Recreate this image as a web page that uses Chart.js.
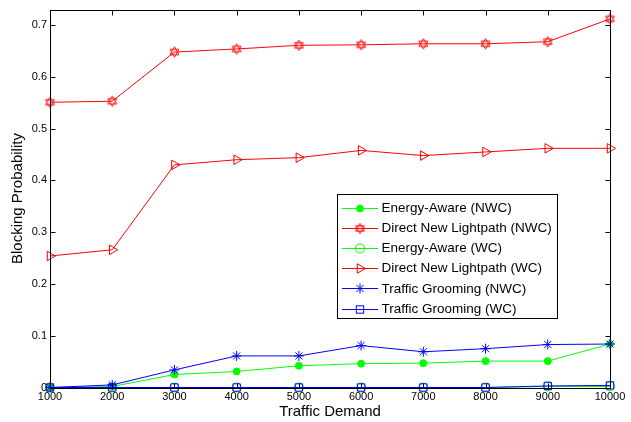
<!DOCTYPE html>
<html><head><meta charset="utf-8">
<script src="https://cdn.jsdelivr.net/npm/chart.js@4.4.1/dist/chart.umd.min.js"></script>
<style>html,body{margin:0;padding:0;background:#fff;}#wrap{width:631px;height:422px;position:relative;}</style>
</head><body><div id="wrap"><canvas id="c" width="631" height="422"></canvas></div>
<script>
// ---- data ----
const trafficDemand = [1000, 2000, 3000, 4000, 5000, 6000, 7000, 8000, 9000, 10000];
const xTickValues = [1000, 2000, 3000, 4000, 5000, 6000, 7000, 8000, 9000, 10000];
const yTickValues = [0, 0.1, 0.2, 0.3, 0.4, 0.5, 0.6, 0.7];
const energyAwareNWC = [0, 0.002, 0.025, 0.031, 0.042, 0.046, 0.047, 0.051, 0.051, 0.084];
const directNewNWC  = [0.551, 0.553, 0.648, 0.654, 0.661, 0.662, 0.664, 0.664, 0.668, 0.712];
const energyAwareWC = [0, 0, 0, 0, 0, 0, 0, 0, 0.002, 0.002];
const directNewWC   = [0.254, 0.266, 0.430, 0.440, 0.444, 0.458, 0.448, 0.455, 0.462, 0.462];
const groomingNWC   = [0, 0.005, 0.034, 0.061, 0.061, 0.081, 0.069, 0.075, 0.083, 0.084];
const groomingWC    = [0, 0, 0, 0, 0, 0, 0, 0, 0.003, 0.004];
const seriesNames = ['Energy-Aware (NWC)', 'Direct New Lightpath (NWC)', 'Energy-Aware (WC)',
  'Direct New Lightpath (WC)', 'Traffic Grooming (NWC)', 'Traffic Grooming (WC)'];
const xTitle = 'Traffic Demand';
const yTitle = 'Blocking Probability';

const GREEN = 'rgb(0,255,0)', RED = 'rgb(255,0,0)', BLUE = 'rgb(0,0,255)';
const FONT = '"Liberation Sans", Arial, Helvetica, sans-serif';

function hexagramImage(color) {
  const s = 13, c = document.createElement('canvas');
  c.width = s; c.height = s;
  const g = c.getContext('2d');
  g.strokeStyle = color; g.lineWidth = 1;
  const cx = s / 2, cy = s / 2, R = 5.2, r = R / Math.sqrt(3);
  g.beginPath();
  for (let i = 0; i < 12; i++) {
    const a = -Math.PI / 2 + i * Math.PI / 6;
    const rr = i % 2 === 0 ? R : r;
    const px = cx + rr * Math.cos(a), py = cy + rr * Math.sin(a);
    if (i === 0) g.moveTo(px, py); else g.lineTo(px, py);
  }
  g.closePath(); g.stroke();
  g.beginPath();
  for (let i = 0; i < 6; i++) {
    const a = -Math.PI / 2 + Math.PI / 6 + i * Math.PI / 3;
    const px = cx + r * Math.cos(a), py = cy + r * Math.sin(a);
    if (i === 0) g.moveTo(px, py); else g.lineTo(px, py);
  }
  g.closePath(); g.stroke();
  return c;
}
const hexRed = hexagramImage(RED);

const seriesValues = [energyAwareNWC, directNewNWC, energyAwareWC, directNewWC, groomingNWC, groomingWC];
const styles = [
  {color: GREEN, pointStyle: 'circle', radius: 3.5, fill: true, rotation: 0},
  {color: RED, pointStyle: hexRed, radius: 5, fill: false, rotation: 0},
  {color: GREEN, pointStyle: 'circle', radius: 4.5, fill: false, rotation: 0},
  {color: RED, pointStyle: 'triangle', radius: 5.5, fill: false, rotation: 90},
  {color: BLUE, pointStyle: 'star', radius: 5, fill: false, rotation: 0},
  {color: BLUE, pointStyle: 'rect', radius: 5.2, fill: false, rotation: 0},
];

const datasets = seriesNames.map((name, i) => ({
  label: name,
  data: trafficDemand.map((x, j) => ({x: x, y: seriesValues[i][j]})),
  borderColor: styles[i].color,
  backgroundColor: styles[i].fill ? styles[i].color : 'rgba(0,0,0,0)',
  borderWidth: 1,
  pointStyle: styles[i].pointStyle,
  pointRadius: styles[i].radius,
  pointRotation: styles[i].rotation,
  pointBorderWidth: 1,
  pointBorderColor: styles[i].color,
  pointBackgroundColor: styles[i].fill ? styles[i].color : 'rgba(0,0,0,0)',
  tension: 0,
  fill: false,
  clip: false,
  order: seriesNames.length - i
}));

function drawMarker(ctx, st, x, y) {
  ctx.save();
  ctx.strokeStyle = st.color; ctx.fillStyle = st.color; ctx.lineWidth = 1;
  const r = st.radius;
  if (st.pointStyle instanceof HTMLCanvasElement) {
    ctx.drawImage(st.pointStyle, x - st.pointStyle.width / 2, y - st.pointStyle.height / 2);
  } else if (st.pointStyle === 'circle') {
    ctx.beginPath(); ctx.arc(x, y, r, 0, Math.PI * 2);
    if (st.fill) ctx.fill(); ctx.stroke();
  } else if (st.pointStyle === 'triangle') {
    ctx.beginPath();
    ctx.moveTo(x + r, y);
    ctx.lineTo(x - r * 0.5, y - r * 0.866);
    ctx.lineTo(x - r * 0.5, y + r * 0.866);
    ctx.closePath(); ctx.stroke();
  } else if (st.pointStyle === 'star') {
    ctx.beginPath();
    for (let k = 0; k < 4; k++) {
      const a = k * Math.PI / 4;
      ctx.moveTo(x - r * Math.cos(a), y - r * Math.sin(a));
      ctx.lineTo(x + r * Math.cos(a), y + r * Math.sin(a));
    }
    ctx.stroke();
  } else if (st.pointStyle === 'rect') {
    const h = r * Math.SQRT1_2;
    ctx.strokeRect(x - h, y - h, 2 * h, 2 * h);
  }
  ctx.restore();
}

const framePlugin = {
  id: 'frame',
  afterDatasetsDraw(chart) {
    const {ctx, chartArea: a, scales} = chart;
    ctx.save();
    ctx.strokeStyle = '#000'; ctx.lineWidth = 1;
    const L = Math.round(a.left) + 0.5, R = Math.round(a.right) + 0.5;
    const T = Math.round(a.top) + 0.5, B = Math.round(a.bottom) + 0.5;
    ctx.strokeRect(L, T, R - L, B - T);
    ctx.beginPath();
    const tl = 5;
    xTickValues.forEach(v => {
      const px = Math.round(scales.x.getPixelForValue(v)) + 0.5;
      ctx.moveTo(px, B); ctx.lineTo(px, B - tl);
      ctx.moveTo(px, T); ctx.lineTo(px, T + tl);
    });
    yTickValues.forEach(v => {
      const py = Math.round(scales.y.getPixelForValue(v)) + 0.5;
      ctx.moveTo(L, py); ctx.lineTo(L + tl, py);
      ctx.moveTo(R, py); ctx.lineTo(R - tl, py);
    });
    ctx.stroke();
    ctx.restore();
  },
  afterDraw(chart) {
    const ctx = chart.ctx;
    ctx.save();
    const bx = 337.5, by = 194.5, bw = 220, bh = 124;
    ctx.fillStyle = '#fff';
    ctx.fillRect(bx, by, bw, bh);
    ctx.strokeStyle = '#000'; ctx.lineWidth = 1;
    ctx.strokeRect(bx, by, bw, bh);
    ctx.font = '13.5px ' + FONT;
    ctx.textBaseline = 'middle';
    ctx.textAlign = 'left';
    seriesNames.forEach((name, i) => {
      const y = 207.5 + i * 20.2;
      const st = styles[i];
      ctx.strokeStyle = st.color; ctx.lineWidth = 1;
      ctx.beginPath(); ctx.moveTo(342, Math.round(y) + 0.5); ctx.lineTo(378, Math.round(y) + 0.5); ctx.stroke();
      drawMarker(ctx, st, 360, Math.round(y) + 0.5);
      ctx.fillStyle = '#000';
      ctx.fillText(name, 381.5, y + 0.5);
    });
    ctx.restore();
  }
};

new Chart(document.getElementById('c'), {
  type: 'line',
  data: {datasets: datasets},
  plugins: [framePlugin],
  options: {
    responsive: false,
    animation: false,
    devicePixelRatio: 1,
    layout: {padding: {left: 0, right: 21, top: 8, bottom: 0}},
    plugins: {legend: {display: false}, tooltip: {enabled: false}},
    scales: {
      x: {
        type: 'linear', min: 1000, max: 10000,
        afterBuildTicks: s => { s.ticks = xTickValues.map(v => ({value: v})); },
        afterFit: s => { s.height = 34.5; },
        grid: {display: false, drawTicks: false},
        border: {display: false},
        ticks: {padding: 3, color: '#000', font: {family: FONT, size: 11}, maxRotation: 0, autoSkip: false,
          callback: v => String(v)},
        title: {display: true, text: xTitle, color: '#000', font: {family: FONT, size: 15}, padding: {top: 0, bottom: 1}}
      },
      y: {
        type: 'linear', min: 0, max: 0.73,
        afterBuildTicks: s => { s.ticks = yTickValues.map(v => ({value: v})); },
        afterFit: s => { s.width = 50; },
        grid: {display: false, drawTicks: false},
        border: {display: false},
        ticks: {padding: 3, color: '#000', font: {family: FONT, size: 11},
          callback: v => (Math.round(v * 10) / 10).toString()},
        title: {display: true, text: yTitle, color: '#000', font: {family: FONT, size: 15}, padding: {top: 9, bottom: 0}}
      }
    }
  }
});
</script></body></html>
